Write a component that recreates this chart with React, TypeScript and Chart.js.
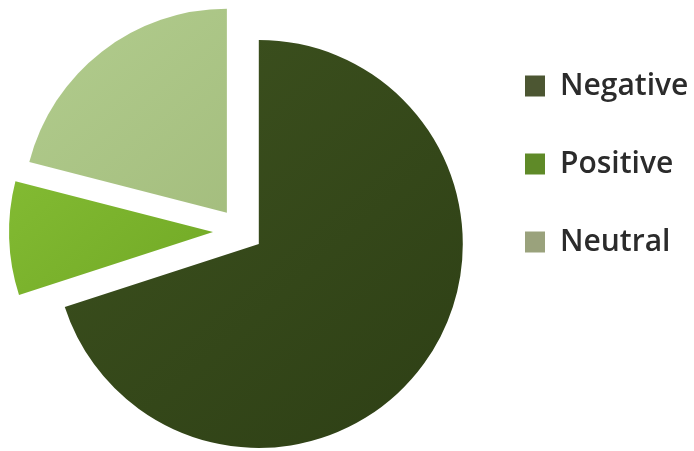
import React, { useEffect, useRef } from "react";
import { Chart, registerables } from "chart.js";

Chart.register(...registerables);

const categories = ["Negative", "Positive", "Neutral"];
const shares = [70, 9, 21];
// distance (px) each slice is pulled out from the pie centre
const explode = [22, 28, 23];
const legendColors = ["#4c5632", "#5f8a28", "#9aa27c"];
const gradientStops = [
  ["#3f5420", "#2f4116"],
  ["#8cc43a", "#609818"],
  ["#b2cd8e", "#98b070"],
];

const explodePlugin = {
  id: "explodeSlices",
  beforeDatasetDraw(chart: any, args: any) {
    const meta = chart.getDatasetMeta(args.index);
    const area = chart.chartArea;
    const cx = (area.left + area.right) / 2;
    const cy = (area.top + area.bottom) / 2;
    meta.data.forEach((arc: any, i: number) => {
      const mid = (arc.startAngle + arc.endAngle) / 2;
      const d = explode[i] || 0;
      arc.x = cx + Math.cos(mid) * d;
      arc.y = cy + Math.sin(mid) * d;
    });
  },
};

export default function App() {
  const ref = useRef<HTMLCanvasElement>(null);

  useEffect(() => {
    document.body.style.margin = "0";
    const canvas = ref.current!;
    const chart = new Chart(canvas, {
      type: "pie",
      data: {
        labels: categories,
        datasets: [
          {
            data: shares,
            hoverOffset: 0,
            borderWidth: 0,
            backgroundColor: (c: any) => {
              const i = c.dataIndex ?? 0;
              const area = c.chart.chartArea;
              const stops = gradientStops[i] || gradientStops[0];
              if (!area) return stops[1];
              const g = c.chart.ctx.createLinearGradient(
                area.left,
                area.top,
                area.left + (area.right - area.left) * 0.8,
                area.bottom
              );
              g.addColorStop(0, stops[0]);
              g.addColorStop(1, stops[1]);
              return g;
            },
          },
        ],
      },
      options: {
        responsive: false,
        maintainAspectRatio: false,
        animation: false,
        radius: 204,
        layout: { padding: { left: 5, right: 0, top: 14, bottom: 3 } },
        plugins: {
          tooltip: { enabled: false },
          legend: {
            position: "right",
            align: "start",
            maxWidth: 217,
            title: {
              display: true,
              text: " ",
              font: { size: 9, lineHeight: 1 },
              padding: 0,
            },
            labels: {
              boxWidth: 20,
              boxHeight: 21,
              padding: 48,
              color: "#2b2b2b",
              font: { family: "Open Sans", size: 30, weight: "600" },
              generateLabels: () =>
                categories.map((t, i) => ({
                  text: t,
                  fillStyle: legendColors[i],
                  strokeStyle: legendColors[i],
                  fontColor: "#2b2b2b",
                  lineWidth: 0,
                  hidden: false,
                  index: i,
                })),
            },
          },
        },
      },
      plugins: [explodePlugin],
    } as any);
    return () => chart.destroy();
  }, []);

  return (
    <div style={{ width: 694, height: 451 }}>
      <canvas ref={ref} width={694} height={451} style={{ display: "block" }} />
    </div>
  );
}
